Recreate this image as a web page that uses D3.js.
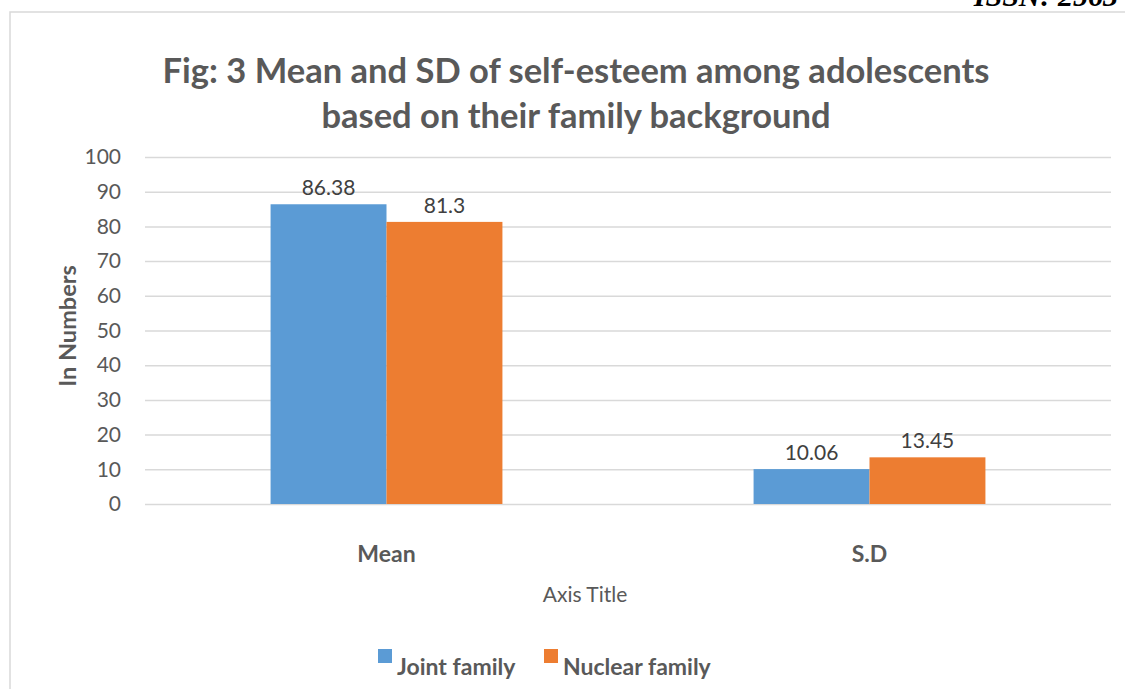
<!DOCTYPE html>
<html>
<head>
<meta charset="utf-8">
<script src="https://cdn.jsdelivr.net/npm/d3@7"></script>
<style>
  body { margin: 0; background: #fff; }
  text { font-family: Lato, "Open Sans", sans-serif; }
</style>
</head>
<body>
<div id="chart"></div>
<script>
// chart values
var categories = ["Mean", "S.D"];
var seriesNames = ["Joint family", "Nuclear family"];
var jointValues = [86.38, 10.06];
var nuclearValues = [81.3, 13.45];
var yTickValues = [0, 10, 20, 30, 40, 50, 60, 70, 80, 90, 100];
var titleLines = ["Fig: 3 Mean and SD of self-esteem among adolescents",
                  "based on their family background"];

var W = 1125, H = 689;
var colors = {"Joint family": "#5B9BD5", "Nuclear family": "#ED7D31"};

var svg = d3.select("#chart")
    .append("svg")
    .attr("width", W)
    .attr("height", H);

// page header, mostly cut off at the top (as in the source page)
svg.append("text")
    .attr("x", 1118)
    .attr("y", 6)
    .attr("text-anchor", "end")
    .style("font-family", "'Liberation Serif', serif")
    .style("font-weight", "bold")
    .style("font-style", "italic")
    .style("font-size", "30px")
    .attr("fill", "#000")
    .text("ISSN: 2563");

// chart border
svg.append("rect")
    .attr("x", 10)
    .attr("y", 12)
    .attr("width", W + 20)
    .attr("height", H + 20)
    .attr("fill", "none")
    .attr("stroke", "#D9D9D9")
    .attr("stroke-width", 1.5);

// title
svg.append("g")
    .selectAll("text")
    .data(titleLines)
    .enter()
    .append("text")
    .attr("x", 576)
    .attr("y", (d, i) => 83 + i * 45)
    .attr("text-anchor", "middle")
    .attr("fill", "#595959")
    .style("font-weight", "bold")
    .style("font-size", "34.5px")
    .text(d => d);

var plot = {left: 145, right: 1111, top: 157, bottom: 504};

var x0 = d3.scaleBand()
    .domain(categories)
    .range([plot.left, plot.right]);

var x1 = d3.scaleBand()
    .domain(seriesNames)
    .range([x0.bandwidth() * 0.26, x0.bandwidth() * 0.74]);

var y = d3.scaleLinear()
    .domain([0, 100])
    .range([plot.bottom, plot.top]);

// gridlines + tick labels
var yAxis = svg.append("g")
    .attr("transform", `translate(${plot.left}, 0)`)
    .call(d3.axisLeft(y)
        .tickValues(yTickValues)
        .tickSize(-(plot.right - plot.left))
        .tickPadding(24));
yAxis.select(".domain").remove();
yAxis.selectAll(".tick line")
    .attr("stroke", "#D9D9D9")
    .attr("stroke-width", 1.5);
yAxis.selectAll(".tick text")
    .attr("fill", "#595959")
    .style("font-family", "Lato, sans-serif")
    .style("font-size", "21px");

// bars
var rows = categories.map((c, i) => ({
    category: c,
    values: [
        {name: seriesNames[0], value: jointValues[i]},
        {name: seriesNames[1], value: nuclearValues[i]}
    ]
}));

var groups = svg.append("g")
    .selectAll("g")
    .data(rows)
    .enter()
    .append("g")
    .attr("transform", d => `translate(${x0(d.category)}, 0)`);

groups.selectAll("rect")
    .data(d => d.values)
    .enter()
    .append("rect")
    .attr("x", d => x1(d.name))
    .attr("y", d => y(d.value))
    .attr("width", x1.bandwidth())
    .attr("height", d => y(0) - y(d.value))
    .attr("fill", d => colors[d.name]);

groups.selectAll("text")
    .data(d => d.values)
    .enter()
    .append("text")
    .attr("x", d => x1(d.name) + x1.bandwidth() / 2)
    .attr("y", d => y(d.value) - 9)
    .attr("text-anchor", "middle")
    .attr("fill", "#404040")
    .style("font-size", "21px")
    .text(d => d.value);

// category labels
svg.append("g")
    .selectAll("text")
    .data(categories)
    .enter()
    .append("text")
    .attr("x", d => x0(d) + x0.bandwidth() / 2)
    .attr("y", 562)
    .attr("text-anchor", "middle")
    .attr("fill", "#595959")
    .style("font-weight", "bold")
    .style("font-size", "23px")
    .text(d => d);

// axis titles
svg.append("text")
    .attr("x", 585)
    .attr("y", 602)
    .attr("text-anchor", "middle")
    .attr("fill", "#595959")
    .style("font-size", "21px")
    .text("Axis Title");

svg.append("g")
    .attr("transform", "translate(76, 326)")
    .append("text")
    .attr("transform", "rotate(-90)")
    .attr("text-anchor", "middle")
    .attr("fill", "#595959")
    .style("font-weight", "bold")
    .style("font-size", "23.5px")
    .text("In Numbers");

// legend
var legendX = [378, 544];
var legend = svg.append("g")
    .selectAll("g")
    .data(seriesNames)
    .enter()
    .append("g")
    .attr("transform", (d, i) => `translate(${legendX[i]}, 649)`);

legend.append("rect")
    .attr("width", 14)
    .attr("height", 14)
    .attr("fill", d => colors[d]);

legend.append("text")
    .attr("x", 19)
    .attr("y", 26)
    .attr("fill", "#595959")
    .style("font-weight", "bold")
    .style("font-size", "23px")
    .text(d => d);
</script>
</body>
</html>
